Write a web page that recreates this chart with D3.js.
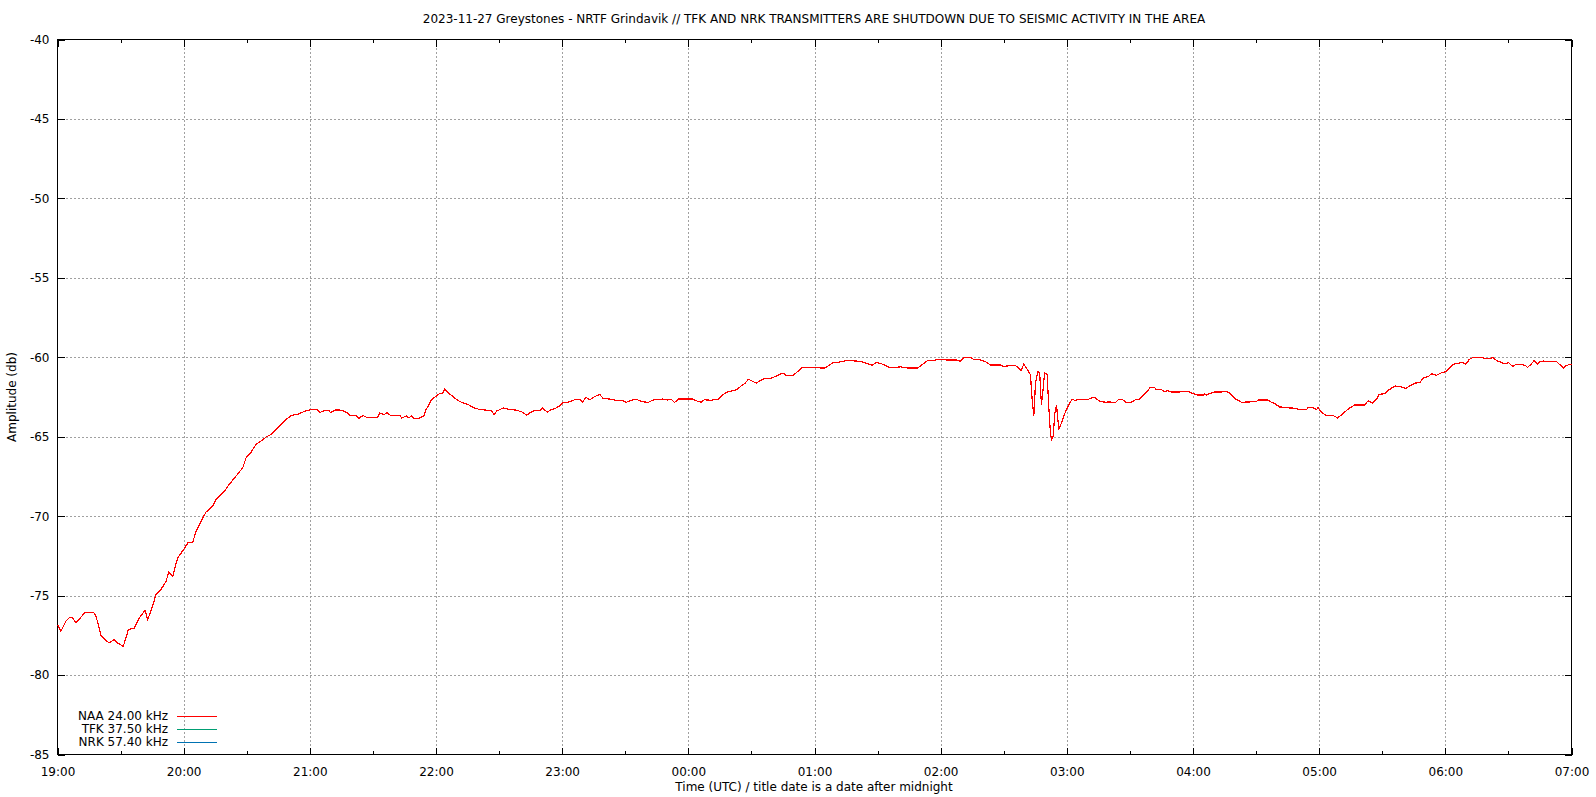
<!DOCTYPE html>
<html>
<head>
<meta charset="utf-8">
<script src="https://cdn.jsdelivr.net/npm/d3@7"></script>
<style>
  html, body { margin: 0; padding: 0; background: #fff; }
  svg { display: block; }
  text { font-family: "DejaVu Sans", sans-serif; font-size: 12px; fill: #000; }
</style>
</head>
<body>
<svg id="chart" width="1596" height="797"></svg>
<script>
const title = "2023-11-27 Greystones - NRTF Grindavik // TFK AND NRK TRANSMITTERS ARE SHUTDOWN DUE TO SEISMIC ACTIVITY IN THE AREA";
const xLabel = "Time (UTC) / title date is a date after midnight";
const yLabel = "Amplitude (db)";
const yTicks = [-40, -45, -50, -55, -60, -65, -70, -75, -80, -85];
const seriesNames = ["NAA 24.00 kHz", "TFK 37.50 kHz", "NRK 57.40 kHz"];
const seriesColors = ["#ff0000", "#009e73", "#0072b2"];

// minutes after 19:00 UTC (2023-11-26)
const naaMinutes = [
  0, 1.6, 2.4, 4, 5.6, 7.1, 8.7, 10.3, 12.7, 15.1, 17.1, 18.3, 19.4, 20.6, 22.2, 24.6, 27, 28.6, 31.3, 32.5,
  33.7, 36.5, 38.9, 41.6, 42.9, 45.2, 46.8, 49.2, 51.6, 52.9, 54.8, 57.1, 60, 62.2, 64.3, 65.9, 68.3, 70.6, 73.8, 75.4,
  77, 79.4, 81.7, 84.9, 88.1, 89.7, 92.1, 94.4, 96.8, 99.2, 101.6, 104.8, 107.9, 111.1, 114.3,
  117.9, 120.3, 123.5, 124.7, 126.3, 129, 129.8, 132.2, 135.3, 137.7, 139, 141.7, 143.2, 145.3, 147.2,
  152.3, 153.2, 155.4, 156.7, 158.6, 163, 163.8, 165.8, 166.9, 168.5, 169.3, 172.2, 174.4, 175.3, 176.4, 177.5,
  179.6, 181.7, 183.2, 184.2, 185.9, 188.3, 189.9, 192.3, 195.4, 197.8, 200.9, 204.1, 206.5, 207.6, 208.9, 212,
  215.2, 218.3, 221.2, 223.1, 224.7, 227, 229.7, 230.7, 232.9, 234.2, 236.5, 238.6, 240.2, 242.8, 246, 248.4,
  249.7, 251.3, 253.2, 255.6, 258, 259.5, 262.7, 265.9, 268.6, 270.5, 272.9, 275, 277.6, 280.8, 283.2, 287.9,
  290.2, 291.8, 293.4, 295.4, 299.7, 302.1, 304.4, 306, 307.6, 310.8, 312.3, 314.4,
  315.9, 318.3, 319.8, 323, 324.9, 327, 328.6, 330.6, 332.5, 334.1, 336.5, 338.9, 341.3, 343.7, 345.2, 346.5, 350,
  351.6, 353.2, 354.4, 356.3, 360.3, 362.7, 365.1, 366.7, 369.1, 371.4, 375.4, 379.4, 382.5, 384.9, 387.3, 389.4,
  392.1, 393.7, 396, 398.4, 400.8, 404, 409, 411.1, 413.5, 416.3, 418.6, 423, 427.8, 429.4, 431, 434.1, 435.7,
  438.9, 441.3, 443.7, 448.4, 450, 453.2, 455.6, 457.1, 458.3, 459.5, 460.8, 462.7, 463.5, 464.3, 465.1, 466.2,
  467.1, 467.9, 468.7, 469.4, 470.6, 471.4, 472.2, 472.7, 473.5, 474.3, 475.1, 476.2, 477.8, 479.4, 481, 482.5,
  484.1, 485.7, 489.7, 492.9, 495.7, 498.4, 500.3, 503.2, 504.3, 506.3, 507.9, 510.6, 512.7, 514.6, 516.2,
  517.8, 519.7, 521.7, 522.5, 524.9, 526.5, 528.1, 529.7, 533.7, 534.4, 537.6, 540, 542.4, 544.8, 545.6, 546.3,
  547.9, 550.3, 553.5, 554.3, 556.7, 558.3, 559.8, 561.4, 563, 567, 570.2, 571, 575.7, 577.3, 578.9, 581.3,
  585.2, 586, 589.2, 590, 594, 594.8, 597.1, 598.7, 599.5, 600.6, 603.2, 606.7, 608.7, 610.6, 613, 614.6,
  616.9, 621.7, 623.3, 625.4, 627.3, 628.6, 631.3, 632.9, 634.4, 636, 638.4, 641.3, 643.2, 645.6, 648, 649.5,
  651.9, 653.5, 655.9, 658.3, 660.3, 661.4, 663.8, 666.2, 667.8, 669.8, 671.4, 673.3, 676.8, 679.4, 681.6,
  682.5, 684.4, 686.8, 688.4, 690, 692.1, 693.2, 696.4, 698, 699.1, 700.6, 702.2, 703.8, 705.1, 706.7, 708.6,
  713, 714.6, 716.2, 717.5, 720
];
const naaValues = [
  -76.83, -77.25, -77.04, -76.6, -76.4, -76.4, -76.7, -76.5, -76.1, -76.05, -76.05, -76.3, -76.83, -77.5, -77.73, -77.98, -77.77, -77.98, -78.19, -77.67,
  -77.14, -77.04, -76.4, -75.92, -76.5, -75.67, -74.94, -74.62, -74.1, -73.53, -73.78, -72.63, -72.1, -71.64, -71.64, -70.95, -70.32, -69.75, -69.37, -68.95,
  -68.74, -68.42, -68.0, -67.48, -66.95, -66.32, -65.97, -65.48, -65.27, -65.02, -64.85, -64.43, -64.01, -63.66, -63.59,
  -63.38, -63.31, -63.31, -63.48, -63.38, -63.35, -63.48, -63.31, -63.33, -63.5, -63.67, -63.65, -63.85, -63.67, -63.79,
  -63.79, -63.5, -63.6, -63.5, -63.67, -63.69, -63.83, -63.69, -63.81, -63.69, -63.83, -63.83, -63.67, -63.25, -63.08, -62.71,
  -62.5, -62.29, -62.25, -62.0, -62.25, -62.5, -62.67, -62.85, -62.98, -63.17, -63.29, -63.33, -63.38, -63.6, -63.38, -63.19,
  -63.29, -63.33, -63.46, -63.65, -63.5, -63.33, -63.33, -63.19, -63.46, -63.33, -63.23, -63.08, -62.85, -62.83, -62.67, -62.67,
  -62.81, -62.52, -62.67, -62.46, -62.35, -62.6, -62.63, -62.71, -62.73, -62.83, -62.71, -62.63, -62.77, -62.85, -62.69, -62.63,
  -62.69, -62.63, -62.85, -62.63, -62.63, -62.63, -62.77, -62.83, -62.67, -62.71, -62.67, -62.63,
  -62.42, -62.19, -62.15, -62.04, -61.83, -61.63, -61.38, -61.52, -61.63, -61.46, -61.33, -61.35, -61.21, -61.06, -61.0, -61.13, -61.13,
  -60.94, -60.75, -60.63, -60.67, -60.63, -60.67, -60.67, -60.52, -60.33, -60.31, -60.21, -60.23, -60.29, -60.38, -60.5, -60.33,
  -60.42, -60.52, -60.65, -60.65, -60.6, -60.67, -60.67, -60.48, -60.23, -60.21, -60.13, -60.17, -60.17, -60.27, -60.0, -60.0, -60.13,
  -60.17, -60.27, -60.48, -60.48, -60.58, -60.52, -60.52, -60.67, -60.83, -60.44, -60.69, -61.1, -62.67, -63.67, -61.63, -60.9,
  -61.0, -62.98, -62.04, -61.0, -61.06, -63.08, -64.75, -65.17, -64.96, -63.5, -63.04, -64.54, -64.02, -63.4, -62.98, -62.63,
  -62.73, -62.63, -62.67, -62.5, -62.77, -62.83, -62.81, -62.85, -62.69, -62.63, -62.83, -62.83, -62.67, -62.63, -62.42,
  -62.21, -61.9, -61.9, -62.04, -62.04, -62.15, -62.1, -62.19, -62.19, -62.13, -62.13, -62.29, -62.38, -62.38, -62.29, -62.38,
  -62.29, -62.19, -62.19, -62.13, -62.19, -62.35, -62.6, -62.71, -62.83, -62.81, -62.79, -62.69, -62.69, -62.83, -62.92, -63.13,
  -63.15, -63.19, -63.21, -63.31, -63.31, -63.15, -63.19, -63.29, -63.17, -63.38, -63.67, -63.67, -63.81, -63.63, -63.35, -63.19,
  -63.0, -63.0, -62.73, -62.88, -62.63, -62.33, -62.29, -62.08, -61.94, -61.81, -61.83, -61.96, -61.79, -61.63, -61.58, -61.31,
  -61.21, -61.04, -61.13, -60.96, -60.9, -60.73, -60.44, -60.38, -60.31, -60.44, -60.13, -60.0, -60.0, -60.1, -60.1,
  -60.0, -60.21, -60.33, -60.42, -60.33, -60.58, -60.48, -60.46, -60.52, -60.63, -60.46, -60.21, -60.42, -60.27, -60.23, -60.29,
  -60.29, -60.48, -60.69, -60.52, -60.42
];

const startTime = new Date(Date.UTC(2023, 10, 26, 19, 0));
const endTime = new Date(Date.UTC(2023, 10, 27, 7, 0));

const svg = d3.select("#chart");
const L = 57.5, R = 1571.5, T = 39.5, B = 754.5;

const x = d3.scaleUtc().domain([startTime, endTime]).range([L, R]);
const y = d3.scaleLinear().domain([-85, -40]).range([B, T]);

const hourTicks = d3.utcHour.every(1).range(startTime, new Date(endTime.getTime() + 1));
const halfTicks = d3.utcMinute.every(30).range(startTime, new Date(endTime.getTime() + 1))
  .filter(d => d.getUTCMinutes() === 30);

// grid
const grid = svg.append("g").attr("stroke", "#a0a0a0").attr("stroke-width", 1)
  .attr("stroke-dasharray", "2,2").attr("shape-rendering", "crispEdges");
grid.selectAll(".gx").data(hourTicks.slice(1, -1)).join("line")
  .attr("x1", d => Math.round(x(d)) + 0.5).attr("x2", d => Math.round(x(d)) + 0.5)
  .attr("y1", T).attr("y2", B);
grid.selectAll(".gy").data(yTicks.filter(v => v !== -40 && v !== -85)).join("line")
  .attr("x1", L).attr("x2", R)
  .attr("y1", d => Math.round(y(d)) + 0.5).attr("y2", d => Math.round(y(d)) + 0.5);

// axes (bottom/left with labels, top/right mirror ticks)
const fmt = d3.utcFormat("%H:%M");
const bottomAxis = d3.axisBottom(x).tickValues(hourTicks).tickFormat(fmt).tickSizeInner(-7).tickSizeOuter(0).tickPadding(13);
const topAxis = d3.axisTop(x).tickValues(hourTicks).tickFormat("").tickSizeInner(-7).tickSizeOuter(0);
const leftAxis = d3.axisLeft(y).tickValues(yTicks).tickFormat(d => String(d)).tickSizeInner(-7).tickSizeOuter(0).tickPadding(8);
const rightAxis = d3.axisRight(y).tickValues(yTicks).tickFormat("").tickSizeInner(-7).tickSizeOuter(0);

function styleAxis(g) {
  g.select(".domain").remove();
  g.selectAll("line").attr("stroke", "#000").attr("shape-rendering", "crispEdges");
  g.selectAll("text").attr("font-family", "DejaVu Sans, sans-serif").attr("font-size", 12).attr("fill", "#000");
}
svg.append("g").attr("transform", `translate(0,${B})`).call(bottomAxis).call(styleAxis);
svg.append("g").attr("transform", `translate(0,${T})`).call(topAxis).call(styleAxis);
svg.append("g").attr("transform", `translate(${L},0)`).call(leftAxis).call(styleAxis);
svg.append("g").attr("transform", `translate(${R},0)`).call(rightAxis).call(styleAxis);

// minor x ticks
const minor = svg.append("g").attr("stroke", "#000").attr("shape-rendering", "crispEdges");
halfTicks.forEach(d => {
  const xx = Math.round(x(d)) + 0.5;
  minor.append("line").attr("x1", xx).attr("x2", xx).attr("y1", B).attr("y2", B - 3.5);
  minor.append("line").attr("x1", xx).attr("x2", xx).attr("y1", T).attr("y2", T + 3.5);
});

// border
svg.append("rect").attr("x", L).attr("y", T).attr("width", R - L).attr("height", B - T)
  .attr("fill", "none").attr("stroke", "#000").attr("stroke-width", 1).attr("shape-rendering", "crispEdges");

// data line
const naaData = naaMinutes.map((m, i) => ({ t: new Date(startTime.getTime() + m * 60000), v: naaValues[i] }));
const line = d3.line().x(d => x(d.t)).y(d => y(d.v)).curve(d3.curveLinear);
svg.append("path").datum(naaData).attr("d", line)
  .attr("fill", "none").attr("stroke", seriesColors[0]).attr("stroke-width", 1.2)
  .attr("stroke-linejoin", "miter").attr("shape-rendering", "crispEdges");

// legend
const legend = svg.append("g");
seriesNames.forEach((name, i) => {
  const yy = 716 + i * 13;
  legend.append("text").attr("x", 168).attr("y", yy).attr("dy", "0.35em").attr("text-anchor", "end").text(name);
  legend.append("line").attr("x1", 177).attr("x2", 217).attr("y1", yy + 0.5).attr("y2", yy + 0.5)
    .attr("stroke", seriesColors[i]).attr("stroke-width", 1).attr("shape-rendering", "crispEdges");
});

// titles
svg.append("text").attr("x", 814).attr("y", 19).attr("dy", "0.35em").attr("text-anchor", "middle").text(title);
svg.append("text").attr("x", 814).attr("y", 787).attr("dy", "0.35em").attr("text-anchor", "middle").text(xLabel);
svg.append("text").attr("transform", "translate(12,397) rotate(-90)").attr("dy", "0.35em").attr("text-anchor", "middle").text(yLabel);
</script>
</body>
</html>
